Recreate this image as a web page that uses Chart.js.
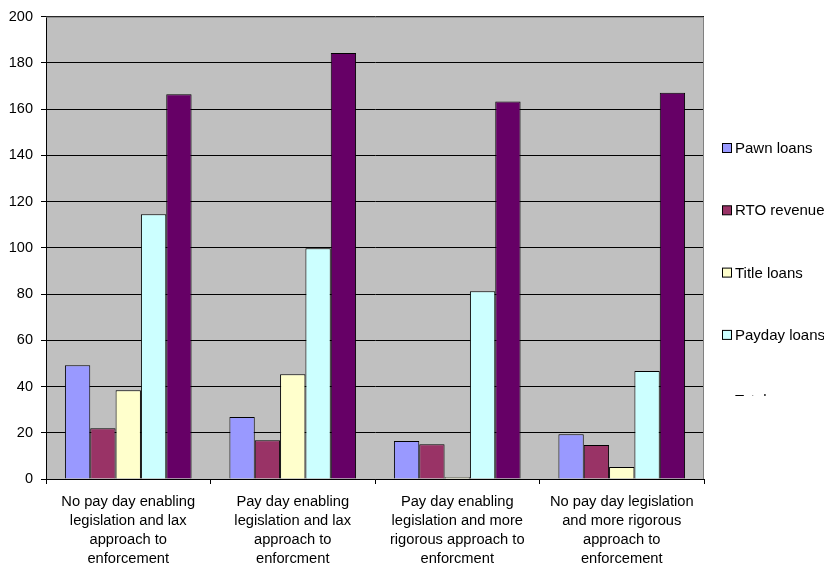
<!DOCTYPE html>
<html>
<head>
<meta charset="utf-8">
<script src="https://cdn.jsdelivr.net/npm/chart.js@4/dist/chart.umd.min.js"></script>
<style>
  html, body { margin: 0; padding: 0; background: #fff; }
  #wrap { width: 824px; height: 568px; }
</style>
</head>
<body>
<div id="wrap"><canvas id="chart" width="824" height="568"></canvas></div>
<script>
const categories = [
  ['No pay day enabling', 'legislation and lax', 'approach to', 'enforcement'],
  ['Pay day enabling', 'legislation and lax', 'approach to', 'enforcment'],
  ['Pay day enabling', 'legislation and more', 'rigorous approach to', 'enforcment'],
  ['No pay day legislation', 'and more rigorous', 'approach to', 'enforcement']
];
const seriesNames = ['Pawn loans', 'RTO revenue', 'Title loans', 'Payday loans', 'Total'];
const pawnLoans = [49.2, 26.8, 16.4, 19.4];
const rtoRevenue = [22, 16.8, 15, 14.7];
const titleLoans = [38.4, 45.3, 0.8, 5.2];
const paydayLoans = [114.5, 99.8, 81.2, 46.7];
const totals = [166.5, 184.3, 163.3, 167.1];
const yTicks = [0, 20, 40, 60, 80, 100, 120, 140, 160, 180, 200];

const colors = ['#9999FF', '#993366', '#FFFFCC', '#CCFFFF', '#660066'];
const FONT = '"Liberation Sans", Arial, sans-serif';

// grey plot background + thin border, Excel style
const plotBg = {
  id: 'plotBg',
  beforeDraw(chart) {
    const { ctx, chartArea: a } = chart;
    ctx.save();
    ctx.fillStyle = '#C0C0C0';
    ctx.fillRect(a.left, a.top, a.right - a.left, a.bottom - a.top);
    ctx.restore();
  },
  afterDatasetsDraw(chart) {
    const { ctx, chartArea: a } = chart;
    ctx.save();
    ctx.strokeStyle = '#808080';
    ctx.lineWidth = 1;
    ctx.beginPath();
    ctx.moveTo(a.left, a.top + 0.5);
    ctx.lineTo(a.right - 0.5, a.top + 0.5);
    ctx.lineTo(a.right - 0.5, a.bottom);
    ctx.stroke();
    ctx.restore();
  }
};

// legend on the right, last entry cut off like the original
const sideLegend = {
  id: 'sideLegend',
  afterDraw(chart) {
    const ctx = chart.ctx;
    ctx.save();
    ctx.font = '15px ' + FONT;
    ctx.textBaseline = 'middle';
    ctx.fillStyle = '#000';
    ctx.beginPath();
    ctx.rect(712, 0, 112, 396);
    ctx.clip();
    chart.data.datasets.forEach((ds, i) => {
      const y = 148 + i * 62.3 + (i === 4 ? 2.5 : 0);
      if (i < 4) {
        ctx.fillStyle = ds.backgroundColor;
        ctx.fillRect(722.5, y - 4.5, 9, 9);
        ctx.strokeStyle = '#000';
        ctx.lineWidth = 1;
        ctx.strokeRect(722.5, y - 4.5, 9, 9);
      }
      ctx.fillStyle = '#000';
      ctx.fillText(ds.label, 735, y + 1);
    });
    ctx.restore();
  }
};

new Chart(document.getElementById('chart'), {
  type: 'bar',
  data: {
    labels: categories,
    datasets: [pawnLoans, rtoRevenue, titleLoans, paydayLoans, totals].map((d, i) => ({
      label: seriesNames[i],
      data: d,
      backgroundColor: colors[i],
      borderColor: '#000',
      borderWidth: 1,
      categoryPercentage: 0.77,
      barPercentage: 1
    }))
  },
  options: {
    responsive: false,
    animation: false,
    layout: { padding: { top: 16, right: 120, left: 0, bottom: 0 } },
    plugins: {
      legend: { display: false },
      tooltip: { enabled: false }
    },
    scales: {
      x: {
        grid: { offset: true, drawOnChartArea: false, drawTicks: true, tickLength: 5, color: '#000' },
        border: { color: '#000', width: 1 },
        ticks: { color: '#000', padding: 8, maxRotation: 0, autoSkip: false,
                 font: { family: FONT, size: 14.7, lineHeight: 1.3 } },
        afterFit(s) { s.height = 89; }
      },
      y: {
        min: 0,
        max: 200,
        afterBuildTicks(s) { s.ticks = yTicks.map(v => ({ value: v })); },
        grid: { color: '#000', tickLength: 5 },
        border: { color: '#000', width: 1 },
        ticks: { color: '#000', padding: 8, font: { family: FONT, size: 14.5 } },
        afterFit(s) { s.width = 46; }
      }
    }
  },
  plugins: [plotBg, sideLegend]
});
</script>
</body>
</html>
